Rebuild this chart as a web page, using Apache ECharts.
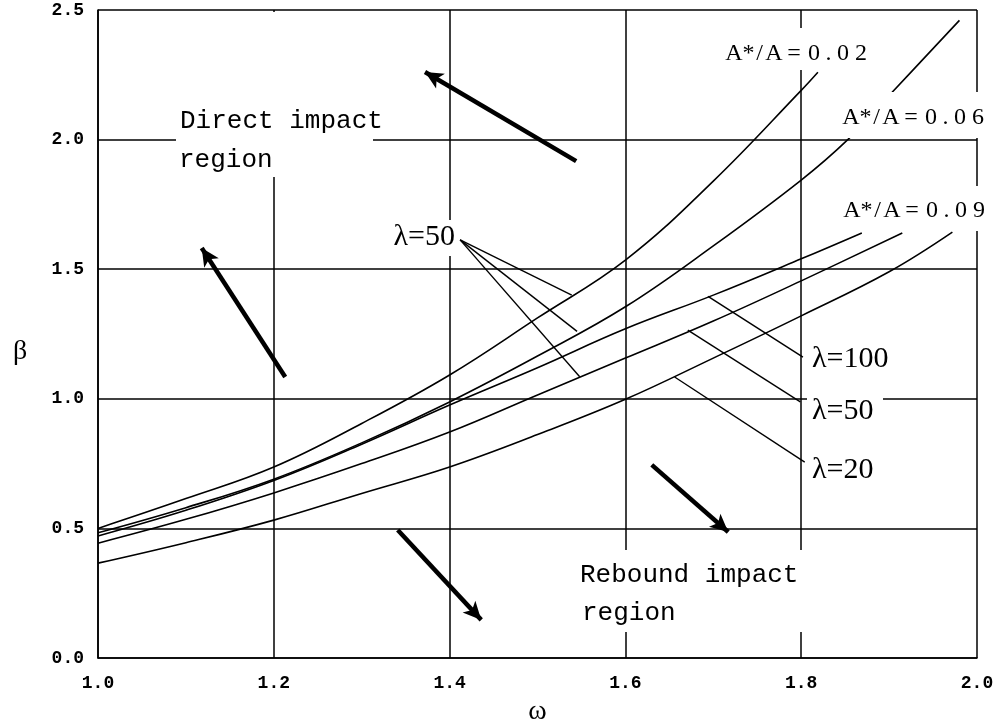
<!DOCTYPE html>
<html><head><meta charset="utf-8">
<script src="https://cdn.jsdelivr.net/npm/echarts@6/dist/echarts.min.js"></script>
<style>html,body{margin:0;padding:0;background:#fff}#c{width:999px;height:726px}</style>
</head><body><div id="c"></div>
<script>
// ---- data ----
const xTickLabels = ['1.0','1.2','1.4','1.6','1.8','2.0'];
const yTickLabels = ['0.0','0.5','1.0','1.5','2.0','2.5'];

// A*/A = 0.02, lambda = 50
const omega1 = [1.0,1.1,1.2,1.3,1.4,1.5,1.6,1.7,1.8,1.819];
const beta1  = [0.50,0.615,0.737,0.905,1.092,1.312,1.535,1.84,2.19,2.26];
// A*/A = 0.06, lambda = 50
const omega2 = [1.0,1.1,1.2,1.3,1.4,1.5,1.6,1.7,1.8,1.853,1.9,1.98];
const beta2  = [0.483,0.58,0.69,0.83,0.988,1.165,1.355,1.59,1.844,2.0,2.17,2.46];
// A*/A = 0.09, lambda = 100
const omega3 = [1.0,1.1,1.2,1.3,1.4,1.5,1.6,1.7,1.8,1.869];
const beta3  = [0.471,0.57,0.685,0.825,0.976,1.12,1.27,1.40,1.54,1.64];
// A*/A = 0.09, lambda = 50
const omega4 = [1.0,1.1,1.2,1.3,1.4,1.5,1.6,1.7,1.8,1.915];
const beta4  = [0.443,0.535,0.637,0.75,0.872,1.015,1.157,1.30,1.455,1.64];
// A*/A = 0.09, lambda = 20
const omega5 = [1.0,1.1,1.2,1.3,1.4,1.5,1.6,1.7,1.8,1.9,1.972];
const beta5  = [0.366,0.445,0.532,0.635,0.737,0.862,0.998,1.157,1.32,1.49,1.643];

// direction arrows: tail -> head (omega, beta)
const arrowTails = [[1.544,1.917],[1.213,1.084],[1.630,0.745],[1.341,0.494]];
const arrowHeads = [[1.372,2.261],[1.118,1.582],[1.717,0.486],[1.436,0.147]];

// leader lines for lambda labels
const leaderFrom = [[1.412,1.613],[1.412,1.613],[1.412,1.613],[1.694,1.395],[1.671,1.265],[1.656,1.084]];
const leaderTo   = [[1.539,1.40],[1.545,1.26],[1.548,1.085],[1.802,1.161],[1.799,0.988],[1.804,0.756]];

// ---- chart ----
const pairs = (xs, ys) => xs.map((x, i) => [x, ys[i]]);
const curves = [[omega1,beta1],[omega2,beta2],[omega3,beta3],[omega4,beta4],[omega5,beta5]];

const markData = [];
arrowTails.forEach((t, i) => {
  markData.push([
    {coord: t, symbol: 'none', lineStyle: {width: 4.5, color: '#000', type: 'solid'}},
    {coord: arrowHeads[i], symbol: 'arrow', symbolSize: [13, 18]}
  ]);
});
leaderFrom.forEach((f, i) => {
  markData.push([
    {coord: f, symbol: 'none', lineStyle: {width: 1.4, color: '#000', type: 'solid'}},
    {coord: leaderTo[i], symbol: 'none'}
  ]);
});

const series = curves.map((c, i) => ({
  type: 'line',
  data: pairs(c[0], c[1]),
  smooth: 0.4,
  showSymbol: false,
  symbol: 'none',
  lineStyle: {color: '#000', width: 1.6},
  z: 3,
  markLine: i === 0 ? {
    silent: true,
    animation: false,
    label: {show: false},
    symbol: ['none', 'none'],
    data: markData
  } : undefined
}));

const serif = 'Liberation Serif';
const mono = 'Liberation Mono';
const richA = {
  w: {fontFamily: serif, fontSize: 24, width: 18, align: 'center', color: '#000'},
  n: {fontFamily: serif, fontSize: 24, width: 11, align: 'center', color: '#000'},
  e: {fontFamily: serif, fontSize: 24, width: 22, align: 'center', color: '#000'}
};
const aLabel = d => '{w|A}{n|*}{n|/}{w|A}{e|=}{w|0}{n|.}{w|0}{w|' + d + '}';

function whiteRect(x, y, w, h) {
  return {type: 'rect', z: 100, shape: {x: x, y: y, width: w, height: h}, style: {fill: '#fff'}};
}
function txt(x, y, text, opts) {
  return {
    type: 'text', z: 101, x: x, y: y,
    style: Object.assign({text: text, fill: '#000', textAlign: 'left', textVerticalAlign: 'middle',
      align: 'left', verticalAlign: 'middle'}, opts || {})
  };
}

const option = {
  animation: false,
  backgroundColor: '#fff',
  grid: {left: 98, right: 22, top: 10, bottom: 68, outerBoundsMode: 'none', containLabel: false},
  xAxis: {
    type: 'value', min: 1.0, max: 2.0, interval: 0.2,
    axisLine: {show: true, lineStyle: {color: '#000', width: 1.6}},
    axisTick: {show: false},
    splitLine: {show: true, lineStyle: {color: '#000', width: 1.5}},
    axisLabel: {
      formatter: v => xTickLabels[Math.round((v - 1.0) / 0.2)],
      color: '#000', fontFamily: mono, fontWeight: 'bold', fontSize: 18, margin: 16
    },
    name: 'ω', nameLocation: 'middle', nameGap: 40,
    nameTextStyle: {fontFamily: serif, fontSize: 28, color: '#000'}
  },
  yAxis: {
    type: 'value', min: 0, max: 2.5, interval: 0.5,
    axisLine: {show: true, lineStyle: {color: '#000', width: 1.6}},
    axisTick: {show: false},
    splitLine: {show: true, lineStyle: {color: '#000', width: 1.5}},
    axisLabel: {
      formatter: v => yTickLabels[Math.round(v / 0.5)],
      color: '#000', fontFamily: mono, fontWeight: 'bold', fontSize: 18, margin: 14
    }
  },
  series: series,
  graphic: {elements: [
    txt(20, 352, 'β', {font: '28px "Liberation Serif"', textAlign: 'center', align: 'center'}),
    whiteRect(176, 12, 197, 165),
    txt(180, 121, 'Direct impact', {font: '26px "Liberation Mono"'}),
    txt(179, 160, 'region', {font: '26px "Liberation Mono"'}),
    whiteRect(722, 28, 158, 42),
    txt(725, 54, aLabel('2'), {rich: richA, font: '24px "Liberation Serif"'}),
    whiteRect(842, 92, 155, 46),
    txt(842, 118, aLabel('6'), {rich: richA, font: '24px "Liberation Serif"'}),
    whiteRect(842, 186, 155, 45),
    txt(843, 211, aLabel('9'), {rich: richA, font: '24px "Liberation Serif"'}),
    whiteRect(383, 220, 74, 36),
    txt(455, 237, 'λ=50', {font: '30px "Liberation Serif"', textAlign: 'right', align: 'right'}),
    txt(812, 359, 'λ=100', {font: '30px "Liberation Serif"'}),
    whiteRect(807, 394, 76, 31),
    txt(812, 411, 'λ=50', {font: '30px "Liberation Serif"'}),
    txt(812, 470, 'λ=20', {font: '30px "Liberation Serif"'}),
    whiteRect(575, 550, 265, 82),
    txt(580, 575, 'Rebound impact', {font: '26px "Liberation Mono"'}),
    txt(582, 613, 'region', {font: '26px "Liberation Mono"'})
  ]}
};
const chart = echarts.init(document.getElementById('c'));
chart.setOption(option);
</script>
</body></html>
